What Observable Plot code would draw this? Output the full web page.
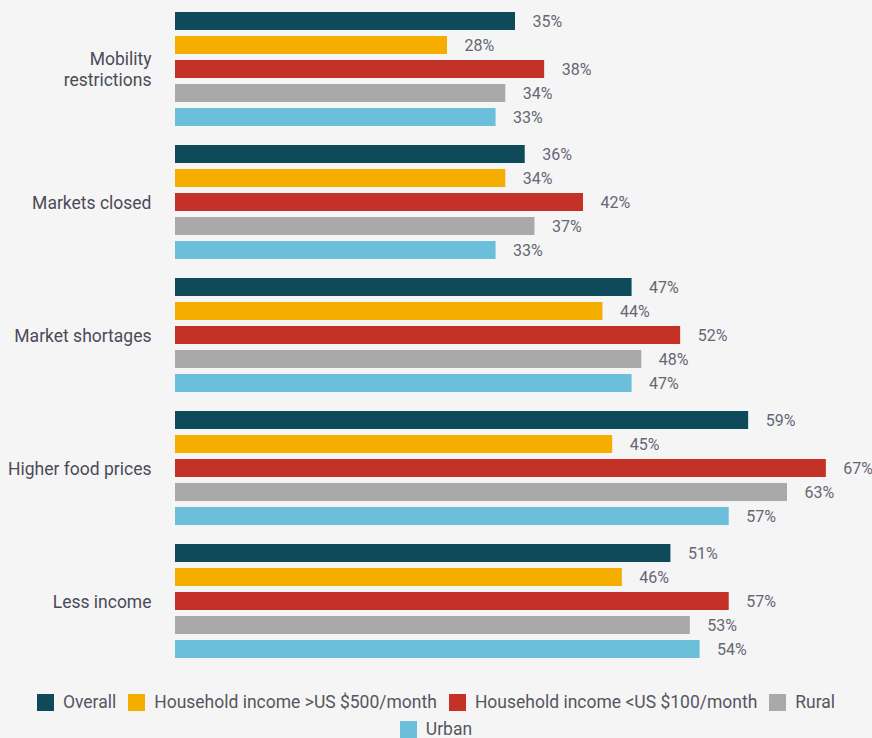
<!DOCTYPE html>
<html>
<head>
<meta charset="utf-8">
<script src="https://cdn.jsdelivr.net/npm/d3@7"></script>
<script src="https://cdn.jsdelivr.net/npm/@observablehq/plot@0.6"></script>
<style>
  html, body { margin: 0; padding: 0; background: #f5f5f5; }
  #wrap { width: 872px; height: 738px; overflow: hidden; background: #f5f5f5; font-family: Roboto, "Liberation Sans", sans-serif; }
  #chart { height: 679px; }
  #legend { display: flex; flex-wrap: wrap; justify-content: center; column-gap: 12px; row-gap: 7px; max-width: 850px; margin: 13px auto 0; font-size: 17.5px; color: #55555f; }
  .item { display: flex; align-items: center; gap: 9px; height: 20px; }
  .sw { width: 17px; height: 17px; display: inline-block; }
</style>
</head>
<body>
<div id="wrap"><div id="chart"></div><div id="legend"></div></div>
<script>
const categories = ["Mobility restrictions", "Markets closed", "Market shortages", "Higher food prices", "Less income"];
const series = ["Overall", "Household income >US $500/month", "Household income <US $100/month", "Rural", "Urban"];
const colors = ["#0f4a5a", "#f5ae00", "#c43127", "#a9a9a9", "#6cbfdb"];
const overall = [35, 36, 47, 59, 51];
const incomeHigh = [28, 34, 44, 45, 46];
const incomeLow = [38, 42, 52, 67, 57];
const rural = [34, 37, 48, 63, 53];
const urban = [33, 33, 47, 57, 54];

const seriesValues = [overall, incomeHigh, incomeLow, rural, urban];
const data = [];
categories.forEach((c, i) => {
  series.forEach((s, j) => {
    data.push({category: c, series: s, value: seriesValues[j][i]});
  });
});

const labelMap = {"Mobility restrictions": "Mobility\nrestrictions"};

const chart = Plot.plot({
  width: 872,
  height: 679,
  marginLeft: 175,
  marginRight: 17,
  marginTop: 7,
  marginBottom: 17,
  style: {background: "#f5f5f5", fontFamily: "Roboto, 'Liberation Sans', sans-serif", overflow: "visible"},
  x: {domain: [0, 70], axis: null},
  y: {domain: series, paddingInner: 0.25, paddingOuter: 0.125, axis: null},
  fy: {domain: categories, paddingInner: 0.09, paddingOuter: 0, label: null},
  color: {domain: series, range: colors},
  marks: [
    Plot.axisFy({anchor: "left", tickSize: 0, tickPadding: 24, label: null, fontSize: 17.5, lineHeight: 1.2,
      tickFormat: d => labelMap[d] || d, color: "#4b4b57"}),
    Plot.barX(data, {fy: "category", y: "series", x: "value", fill: "series"}),
    Plot.text(data, {fy: "category", y: "series", x: "value", text: d => d.value + "%", dx: 17,
      textAnchor: "start", fontSize: 16, fill: "#666674"})
  ]
});
document.getElementById("chart").appendChild(chart);

const legend = document.getElementById("legend");
series.forEach((s, i) => {
  const it = document.createElement("div");
  it.className = "item";
  const sw = document.createElement("span");
  sw.className = "sw";
  sw.style.background = colors[i];
  const t = document.createElement("span");
  t.textContent = s;
  it.appendChild(sw);
  it.appendChild(t);
  legend.appendChild(it);
});
</script>
</body>
</html>
